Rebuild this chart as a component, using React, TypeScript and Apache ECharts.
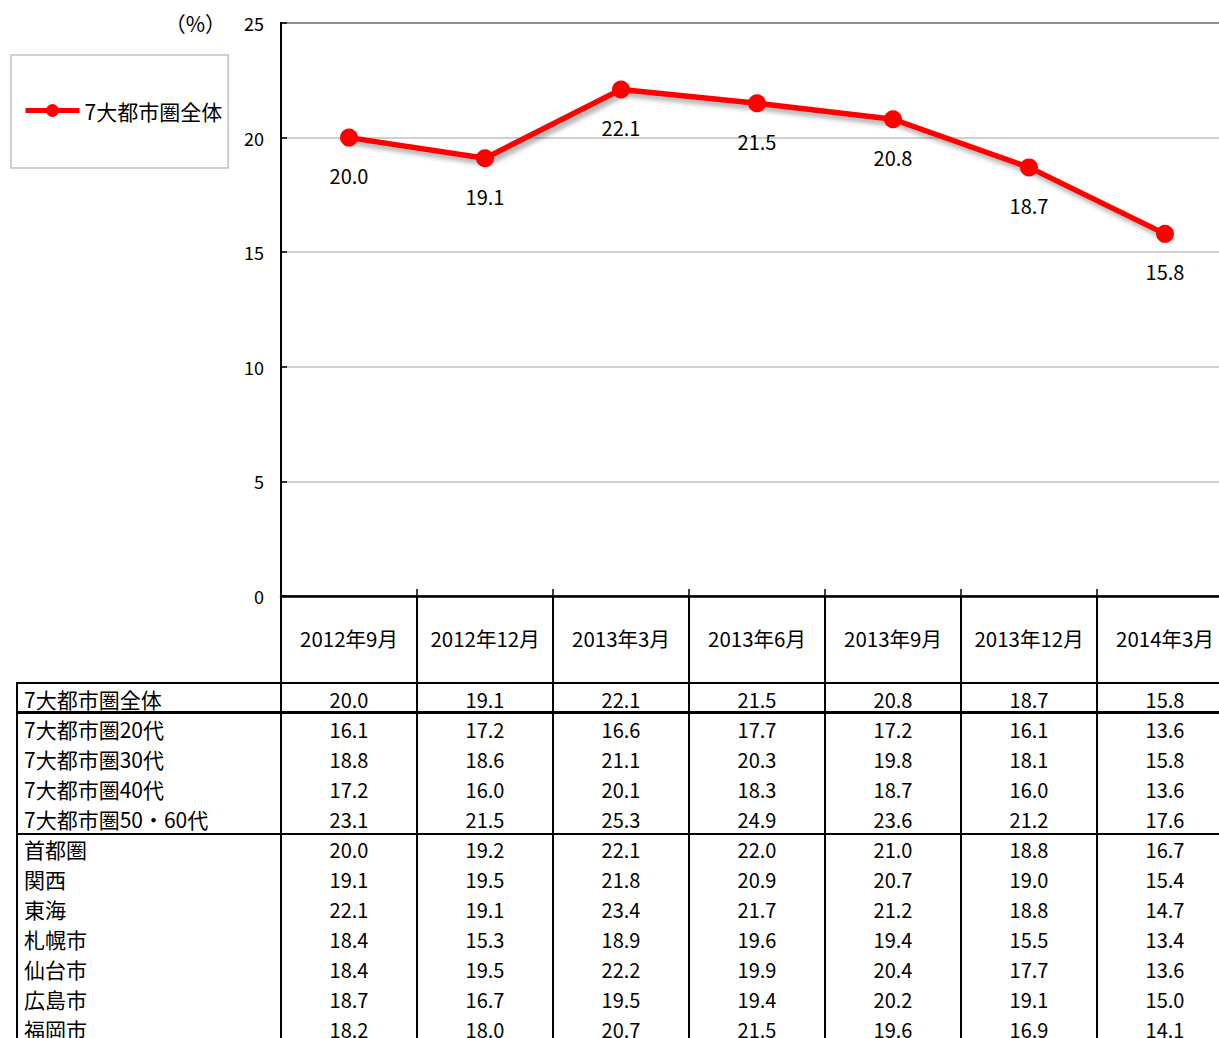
import React, { useEffect, useRef } from "react";
import * as echarts from "echarts";

const categories = ["2012年9月", "2012年12月", "2013年3月", "2013年6月", "2013年9月", "2013年12月", "2014年3月"];
const seriesName = "7大都市圏全体";
const totalValues = [20.0, 19.1, 22.1, 21.5, 20.8, 18.7, 15.8];
const yTicks = { min: 0, max: 25, interval: 5 };
const unitLabel = "（%）";

const rowLabels = [
  "7大都市圏全体",
  "7大都市圏20代",
  "7大都市圏30代",
  "7大都市圏40代",
  "7大都市圏50・60代",
  "首都圏",
  "関西",
  "東海",
  "札幌市",
  "仙台市",
  "広島市",
  "福岡市",
];
const age20s = [16.1, 17.2, 16.6, 17.7, 17.2, 16.1, 13.6];
const age30s = [18.8, 18.6, 21.1, 20.3, 19.8, 18.1, 15.8];
const age40s = [17.2, 16.0, 20.1, 18.3, 18.7, 16.0, 13.6];
const age5060s = [23.1, 21.5, 25.3, 24.9, 23.6, 21.2, 17.6];
const shutoken = [20.0, 19.2, 22.1, 22.0, 21.0, 18.8, 16.7];
const kansai = [19.1, 19.5, 21.8, 20.9, 20.7, 19.0, 15.4];
const tokai = [22.1, 19.1, 23.4, 21.7, 21.2, 18.8, 14.7];
const sapporo = [18.4, 15.3, 18.9, 19.6, 19.4, 15.5, 13.4];
const sendai = [18.4, 19.5, 22.2, 19.9, 20.4, 17.7, 13.6];
const hiroshima = [18.7, 16.7, 19.5, 19.4, 20.2, 19.1, 15.0];
const fukuoka = [18.2, 18.0, 20.7, 21.5, 19.6, 16.9, 14.1];

const tableRows = [totalValues, age20s, age30s, age40s, age5060s, shutoken, kansai, tokai, sapporo, sendai, hiroshima, fukuoka];

const FONT = '"Noto Sans CJK JP", "Noto Sans", sans-serif';

export default function App() {
  const ref = useRef<HTMLDivElement>(null);
  useEffect(() => {
    if (!ref.current) return;
    const chart = echarts.init(ref.current, null, { renderer: "svg", width: 1240, height: 1038 });
    chart.setOption({
      animation: false,
      textStyle: { fontFamily: FONT },
      grid: {
        left: 281,
        right: 7,
        top: 23,
        bottom: 442,
        show: true,
        borderColor: "#000",
        borderWidth: 2,
        backgroundColor: "transparent",
      },
      legend: {
        data: [seriesName],
        left: 11,
        top: 55,
        orient: "vertical",
        borderColor: "#c0c0c0",
        borderWidth: 1.5,
        padding: [45, 6, 47, 12],
        itemWidth: 54,
        itemHeight: 16,
        itemGap: 5,
        lineStyle: { width: 5 },
        textStyle: { fontSize: 21, color: "#000", fontFamily: FONT },
      },
      xAxis: {
        type: "category",
        data: categories,
        boundaryGap: true,
        axisLine: { show: true, lineStyle: { color: "#000", width: 2.5 } },
        axisTick: { show: true, inside: true, length: 7, lineStyle: { color: "#000", width: 1.5 } },
        axisLabel: { margin: 32, fontSize: 20.5, color: "#000", fontFamily: FONT, interval: 0 },
        splitLine: { show: false },
      },
      yAxis: {
        type: "value",
        min: yTicks.min,
        max: yTicks.max,
        interval: yTicks.interval,
        axisLine: { show: true, lineStyle: { color: "#000", width: 2 } },
        axisTick: { show: true, inside: true, length: 6, lineStyle: { color: "#000", width: 1.5 } },
        axisLabel: { margin: 17, fontSize: 18, color: "#000", fontFamily: FONT },
        splitLine: { show: true, lineStyle: { color: "#c0c0c0", width: 1.5 } },
      },
      series: [
        {
          name: seriesName,
          type: "line",
          data: totalValues,
          color: "#ff0000",
          symbol: "circle",
          symbolSize: 18,
          lineStyle: {
            width: 5.5,
            color: "#ff0000",
            shadowColor: "rgba(0,0,0,0.35)",
            shadowBlur: 5,
            shadowOffsetX: 3,
            shadowOffsetY: 4,
          },
          itemStyle: { color: "#ff0000" },
          label: {
            show: true,
            position: "bottom",
            distance: 19,
            fontSize: 20,
            color: "#000",
            fontFamily: FONT,
            formatter: (p: any) => Number(p.value).toFixed(1),
          },
        },
      ],
    });

    const c0 = chart.convertToPixel({ xAxisIndex: 0 }, 0) as number;
    const c1 = chart.convertToPixel({ xAxisIndex: 0 }, 1) as number;
    const half = (c1 - c0) / 2;
    const centers = categories.map((_, i) => chart.convertToPixel({ xAxisIndex: 0 }, i) as number);
    const axisY = chart.convertToPixel({ yAxisIndex: 0 }, 0) as number;
    const topY = chart.convertToPixel({ yAxisIndex: 0 }, yTicks.max) as number;

    const tableLeft = 17;
    const rightEdge = 1240;
    const headerBottom = 683;
    const rowH = 30;
    const firstRowCenter = 699;
    const bottom = 1038;

    const graphics: any[] = [];
    const lineEl = (x1: number, y1: number, x2: number, y2: number, w: number) => ({
      type: "line",
      shape: { x1, y1, x2, y2 },
      style: { stroke: "#000", lineWidth: w },
      silent: true,
    });

    // vertical lines
    graphics.push(lineEl(tableLeft, headerBottom - 1, tableLeft, bottom, 2));
    centers.forEach((c) => {
      graphics.push(lineEl(c - half, axisY, c - half, bottom, 2));
    });
    // horizontal lines
    graphics.push(lineEl(tableLeft, headerBottom, rightEdge, headerBottom, 2));
    graphics.push(lineEl(tableLeft, headerBottom + rowH - 0.5, rightEdge, headerBottom + rowH - 0.5, 3));
    graphics.push(lineEl(tableLeft, headerBottom + rowH * 5 + 1, rightEdge, headerBottom + rowH * 5 + 1, 2));

    // row texts
    rowLabels.forEach((lab, r) => {
      const y = firstRowCenter + r * rowH;
      graphics.push({
        type: "text",
        x: tableLeft + 7,
        y,
        silent: true,
        style: { text: lab, fontSize: 21, fontFamily: FONT, fill: "#000", align: "left", verticalAlign: "middle" },
      });
      tableRows[r].forEach((v, i) => {
        graphics.push({
          type: "text",
          x: centers[i],
          y,
          silent: true,
          style: { text: v.toFixed(1), fontSize: 20, fontFamily: FONT, fill: "#000", align: "center", verticalAlign: "middle" },
        });
      });
    });

    // unit label
    graphics.push({
      type: "text",
      x: 226,
      y: topY,
      silent: true,
      style: { text: unitLabel, fontSize: 21, fontFamily: FONT, fill: "#000", align: "right", verticalAlign: "middle" },
    });

    chart.setOption({ graphic: graphics });

    return () => chart.dispose();
  }, []);

  return (
    <div style={{ position: "fixed", left: 0, top: 0, width: 1219, height: 1038, overflow: "hidden", background: "#fff" }}>
      <div ref={ref} style={{ width: 1240, height: 1038 }} />
    </div>
  );
}
